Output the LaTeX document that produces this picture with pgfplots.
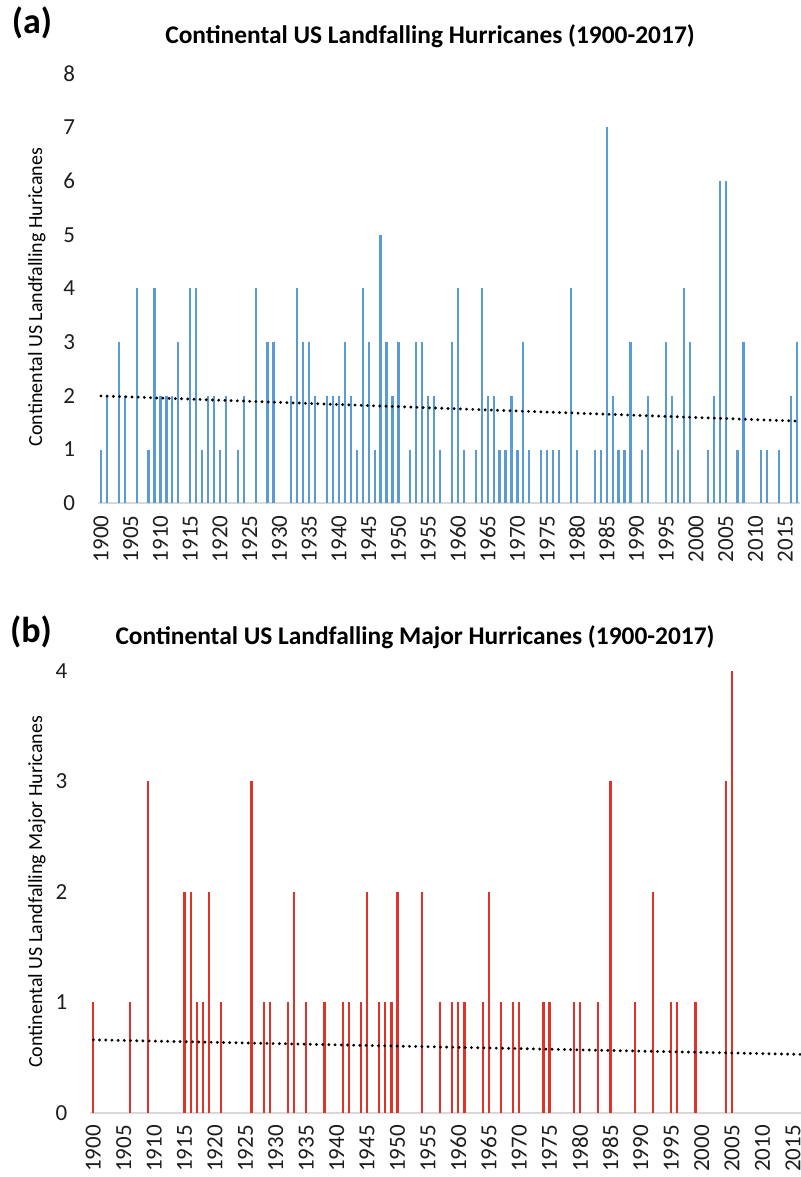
\documentclass[border=0pt]{standalone}
\usepackage{pgfplots}
\pgfplotsset{compat=1.18}
\usepackage{fontspec}
\setmainfont{Carlito}
\definecolor{barblue}{RGB}{91,155,213}
\definecolor{barred}{RGB}{224,50,40}
\definecolor{axgray}{RGB}{217,217,217}
\definecolor{txtgray}{RGB}{30,30,30}

\pgfplotsset{
  hstyle/.style={
    scale only axis,
    axis x line*=bottom, axis y line*=left,
    x axis line style={draw=axgray, line width=1pt, -},
    y axis line style={draw=none},
    xtick style={draw=none}, ytick style={draw=none},
    xtick={1900,1905,...,2015},
    /pgf/number format/.cd, 1000 sep={}, assume math mode=true,
    /pgfplots/.cd,
    tick label style={font=\fontsize{11.5}{13}\selectfont, text=txtgray},
    xticklabel style={rotate=90, anchor=east, inner xsep=6pt},
    yticklabel style={xshift=-8pt},
    label style={font=\fontsize{11.5}{13}\selectfont, text=txtgray},
    clip=false,
  },
  trend/.style={black, line width=1.6pt, line cap=round, dash pattern=on 0pt off 3.1pt},
}

\begin{document}
\begin{tikzpicture}
\useasboundingbox (0,0) rectangle (400.5pt,588.5pt);

% ---------- (a) ----------
\node[font=\bfseries\fontsize{18}{20}\selectfont] at (16pt,577pt) {(a)};
\node[font=\bfseries\fontsize{12.7}{15}\selectfont] at (215pt,570.5pt) {Continental US Landfalling Hurricanes (1900-2017)};
\begin{axis}[hstyle,
  at={(49pt,336.85pt)}, anchor=south west,
  width=351pt, height=214.8pt,
  xmin=1899.5, xmax=2017.5, ymin=0, ymax=8,
  ytick={0,1,...,8},
  ylabel={Continental US Landfalling Huricanes},
  every axis y label/.style={at={(axis description cs:-0.087,0.48)}, rotate=90, anchor=center},
]
\addplot[ycomb, draw=barblue, line width=1.1pt, mark=none] coordinates {
(1900,1) (1901,2) (1902,0) (1903,3) (1904,2) (1905,0) (1906,4) (1907,0) (1908,1) (1909,4)
(1910,2) (1911,2) (1912,2) (1913,3) (1914,0) (1915,4) (1916,4) (1917,1) (1918,2) (1919,2)
(1920,1) (1921,2) (1922,0) (1923,1) (1924,2) (1925,0) (1926,4) (1927,0) (1928,3) (1929,3)
(1930,0) (1931,0) (1932,2) (1933,4) (1934,3) (1935,3) (1936,2) (1937,0) (1938,2) (1939,2)
(1940,2) (1941,3) (1942,2) (1943,1) (1944,4) (1945,3) (1946,1) (1947,5) (1948,3) (1949,2)
(1950,3) (1951,0) (1952,1) (1953,3) (1954,3) (1955,2) (1956,2) (1957,1) (1958,0) (1959,3)
(1960,4) (1961,1) (1962,0) (1963,1) (1964,4) (1965,2) (1966,2) (1967,1) (1968,1) (1969,2)
(1970,1) (1971,3) (1972,1) (1973,0) (1974,1) (1975,1) (1976,1) (1977,1) (1978,0) (1979,4)
(1980,1) (1981,0) (1982,0) (1983,1) (1984,1) (1985,7) (1986,2) (1987,1) (1988,1) (1989,3)
(1990,0) (1991,1) (1992,2) (1993,0) (1994,0) (1995,3) (1996,2) (1997,1) (1998,4) (1999,3)
(2000,0) (2001,0) (2002,1) (2003,2) (2004,6) (2005,6) (2006,0) (2007,1) (2008,3) (2009,0)
(2010,0) (2011,1) (2012,1) (2013,0) (2014,1) (2015,0) (2016,2) (2017,3)
};
\addplot[trend] coordinates {(1900,2.00) (2017,1.53)};
\end{axis}

% ---------- (b) ----------
\node[font=\bfseries\fontsize{18}{20}\selectfont] at (15.5pt,272.5pt) {(b)};
\node[font=\bfseries\fontsize{12.7}{15}\selectfont] at (207.5pt,270pt) {Continental US Landfalling Major Hurricanes (1900-2017)};
\begin{axis}[hstyle,
  at={(45.15pt,32.15pt)}, anchor=south west,
  width=355.35pt, height=220.85pt,
  xmin=1899.5, xmax=2016.33, ymin=0, ymax=4,
  ytick={0,1,...,4},
  ylabel={Continental US Landfalling Major Huricanes},
  every axis y label/.style={at={(axis description cs:-0.075,0.5)}, rotate=90, anchor=center},
]
\addplot[ycomb, draw=barred, line width=1.1pt, mark=none] coordinates {
(1900,1) (1901,0) (1902,0) (1903,0) (1904,0) (1905,0) (1906,1) (1907,0) (1908,0) (1909,3)
(1910,0) (1911,0) (1912,0) (1913,0) (1914,0) (1915,2) (1916,2) (1917,1) (1918,1) (1919,2)
(1920,0) (1921,1) (1922,0) (1923,0) (1924,0) (1925,0) (1926,3) (1927,0) (1928,1) (1929,1)
(1930,0) (1931,0) (1932,1) (1933,2) (1934,0) (1935,1) (1936,0) (1937,0) (1938,1) (1939,0)
(1940,0) (1941,1) (1942,1) (1943,0) (1944,1) (1945,2) (1946,0) (1947,1) (1948,1) (1949,1)
(1950,2) (1951,0) (1952,0) (1953,0) (1954,2) (1955,0) (1956,0) (1957,1) (1958,0) (1959,1)
(1960,1) (1961,1) (1962,0) (1963,0) (1964,1) (1965,2) (1966,0) (1967,1) (1968,0) (1969,1)
(1970,1) (1971,0) (1972,0) (1973,0) (1974,1) (1975,1) (1976,0) (1977,0) (1978,0) (1979,1)
(1980,1) (1981,0) (1982,0) (1983,1) (1984,0) (1985,3) (1986,0) (1987,0) (1988,0) (1989,1)
(1990,0) (1991,0) (1992,2) (1993,0) (1994,0) (1995,1) (1996,1) (1997,0) (1998,0) (1999,1)
(2000,0) (2001,0) (2002,0) (2003,0) (2004,3) (2005,4) (2006,0) (2007,0) (2008,0) (2009,0)
(2010,0) (2011,0) (2012,0) (2013,0) (2014,0) (2015,0) (2016,0)
};
\addplot[trend] coordinates {(1900,0.66) (2016.3,0.528)};
\end{axis}
\end{tikzpicture}
\end{document}
